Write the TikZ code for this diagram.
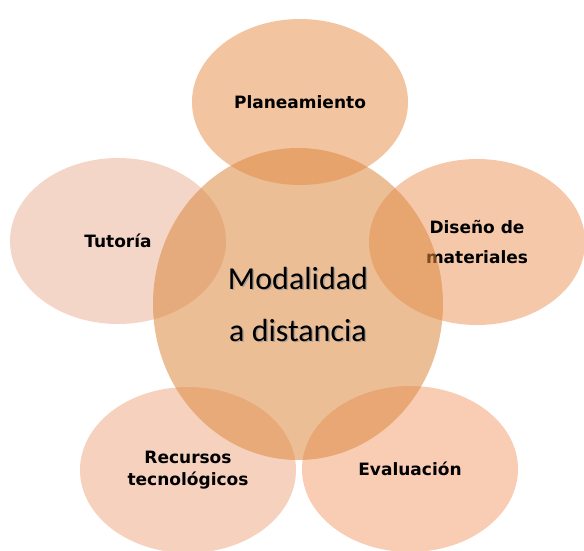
\documentclass[tikz,border=0pt]{standalone}
\usepackage{fontspec}
\setmainfont{DejaVu Sans}
\newfontfamily\centrofont{Carlito}
\usetikzlibrary{shapes.geometric}

\definecolor{planC}{RGB}{231,148,82}
\definecolor{tutC}{RGB}{235,180,155}
\definecolor{disC}{RGB}{239,155,100}
\definecolor{recC}{RGB}{239,173,137}
\definecolor{evaC}{RGB}{242,164,119}
\definecolor{centroC}{RGB}{220,137,64}

\tikzset{
  petalo/.style={ellipse,minimum width=216pt,minimum height=166pt,inner sep=0pt,outer sep=0pt,
    fill opacity=0.55,text opacity=1,align=center,font=\bfseries\fontsize{17}{22}\selectfont},
  centro/.style={ellipse,minimum width=290pt,minimum height=312pt,inner sep=0pt,outer sep=0pt,
    fill=centroC,fill opacity=0.55},
  titulo/.style={align=center,font=\centrofont\fontsize{32}{52}\selectfont}
}

\begin{document}
\begin{tikzpicture}[x=1pt,y=-1pt]
\useasboundingbox (0,0) rectangle (584,550);

% petals
\node[petalo,fill=planC] (plan) at (300,102) {Planeamiento};
\node[petalo,fill=tutC] (tutoria) at (118,241) {Tutoría};
\node[petalo,fill=disC,font=\bfseries\fontsize{17}{30}\selectfont] (diseno) at (477,242) {Diseño de\\materiales};
\node[petalo,fill=recC] (recursos) at (188,470) {Recursos\\tecnológicos};
\node[petalo,fill=evaC] (evaluacion) at (410,469) {Evaluación};

% centre
\node[centro] (centro) at (298,304) {};
\node[titulo,text=black!45,text opacity=0.6] (sombra) at ([shift={(1.5,1.5)}]centro) {Modalidad\\a distancia};
\node[titulo] (titulo) at (centro) {Modalidad\\a distancia};
\end{tikzpicture}
\end{document}
